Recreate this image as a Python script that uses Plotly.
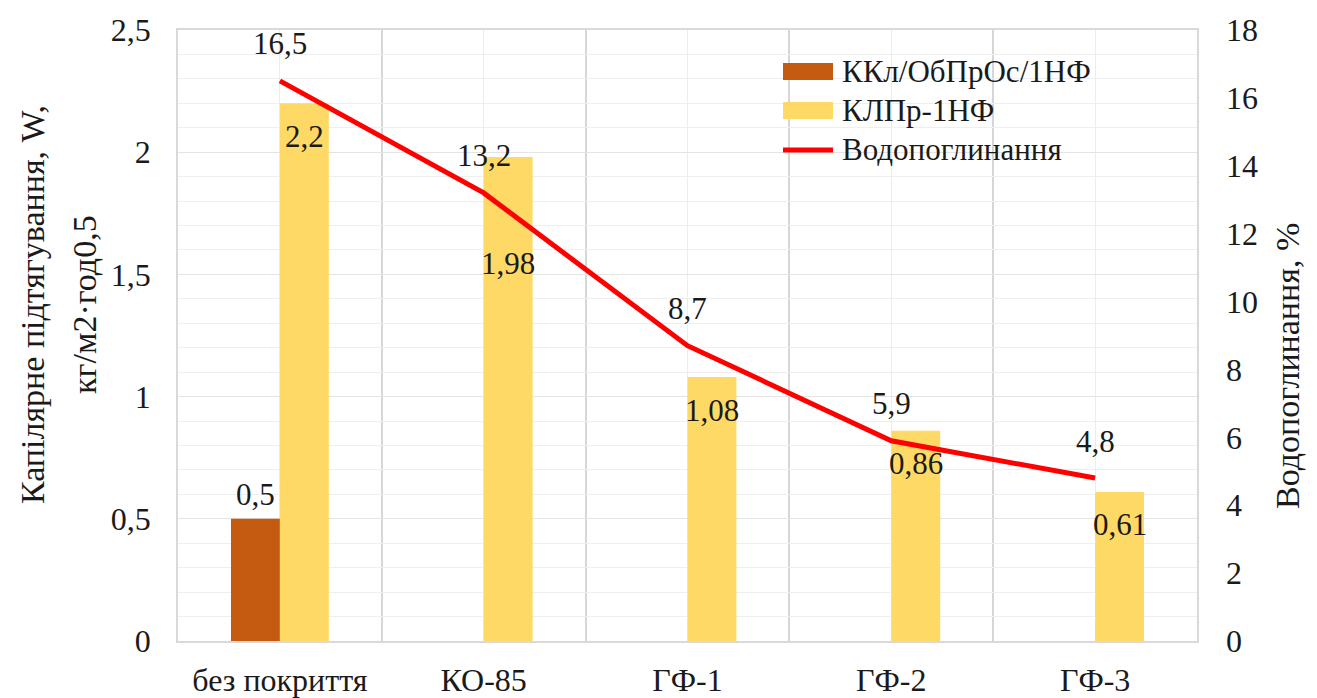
import plotly.graph_objects as go

# Chart data
categories = ["без покриття", "КО-85", "ГФ-1", "ГФ-2", "ГФ-3"]
kkl_values = [0.5, None, None, None, None]          # ККл/ОбПрОс/1НФ
klpr_values = [2.2, 1.98, 1.08, 0.86, 0.61]          # КЛПр-1НФ
water_absorption = [16.5, 13.2, 8.7, 5.9, 4.8]       # Водопоглинання, %

series_names = ["ККл/ОбПрОс/1НФ", "КЛПр-1НФ", "Водопоглинання"]
left_title_lines = ["Капілярне підтягування, W,", "кг/м2·год0,5"]
right_title = "Водопоглинання, %"

FONT = "Times New Roman, Liberation Serif, DejaVu Serif, serif"
BROWN = "#C55A11"
YELLOW = "#FFD966"
RED = "#FF0000"
TXT = "#1a1a1a"
LABEL_SIZE = 31
TICK_SIZE = 32
TITLE_SIZE = 34

W, H = 1317, 698
ML, MR, MT, MB = 178, 120, 30, 57
PW, PH = W - ML - MR, H - MT - MB


def px_x(px):
    return (px - ML) / PW


def px_y(py):
    return (H - MB - py) / PH


def fmt(v):
    return f"{v:g}".replace(".", ",")


x = list(range(len(categories)))

fig = go.Figure()
fig.add_trace(go.Bar(x=x, y=kkl_values, name=series_names[0],
                     marker=dict(color=BROWN, line=dict(width=0)), showlegend=False))
fig.add_trace(go.Bar(x=x, y=klpr_values, name=series_names[1],
                     marker=dict(color=YELLOW, line=dict(width=0)), showlegend=False))
fig.add_trace(go.Scatter(x=x, y=water_absorption, name=series_names[2], yaxis="y2",
                         mode="lines", line=dict(color=RED, width=5),
                         showlegend=False))

ann = []
half_bar = PW / len(categories) * 0.48 / 4
label_font = dict(family=FONT, size=LABEL_SIZE, color=TXT)

# bar value labels
for i, v in enumerate(kkl_values):
    if v is not None:
        ann.append(dict(x=i, y=v, xref="x", yref="y", text=fmt(v), showarrow=False,
                        xshift=-half_bar, yshift=24, yanchor="middle", font=label_font))
for i, v in enumerate(klpr_values):
    shift = -106 if i == 1 else -33
    ann.append(dict(x=i, y=v, xref="x", yref="y", text=fmt(v), showarrow=False,
                    xshift=half_bar, yshift=shift, yanchor="middle", font=label_font))
# line value labels
for i, v in enumerate(water_absorption):
    ann.append(dict(x=i, y=v, xref="x", yref="y2", text=fmt(v), showarrow=False,
                    yshift=37, yanchor="middle", font=label_font))

# axis titles
title_font = dict(family=FONT, size=TITLE_SIZE, color=TXT)
ann.append(dict(x=px_x(32), y=px_y(305), xref="paper", yref="paper",
                text=left_title_lines[0], textangle=-90, showarrow=False,
                xanchor="center", yanchor="middle", font=title_font))
ann.append(dict(x=px_x(84), y=px_y(305), xref="paper", yref="paper",
                text=left_title_lines[1], textangle=-90, showarrow=False,
                xanchor="center", yanchor="middle", font=title_font))
ann.append(dict(x=px_x(1287), y=px_y(366), xref="paper", yref="paper", text=right_title,
                textangle=-90, showarrow=False, xanchor="center", yanchor="middle",
                font=title_font))

# custom legend
shapes = []
legend_rows = [71, 110, 150]
for name, row, kind in zip(series_names, legend_rows, ["bar", "bar", "line"]):
    if kind == "bar":
        color = BROWN if name == series_names[0] else YELLOW
        shapes.append(dict(type="rect", xref="paper", yref="paper",
                           x0=px_x(783), x1=px_x(833), y0=px_y(row + 9), y1=px_y(row - 8),
                           fillcolor=color, line=dict(width=0)))
    else:
        shapes.append(dict(type="line", xref="paper", yref="paper",
                           x0=px_x(783), x1=px_x(833), y0=px_y(row), y1=px_y(row),
                           line=dict(color=RED, width=5)))
    ann.append(dict(x=px_x(840), y=px_y(row), xref="paper", yref="paper", text=name,
                    showarrow=False, xanchor="left", yanchor="middle", font=label_font))

tick_font = dict(family=FONT, size=TICK_SIZE, color=TXT)
fig.update_layout(
    width=W, height=H,
    margin=dict(l=ML, r=MR, t=MT, b=MB, autoexpand=False),
    paper_bgcolor="white", plot_bgcolor="white",
    separators=", ",
    barmode="group", bargap=0.52, bargroupgap=0,
    font=dict(family=FONT, size=TICK_SIZE, color=TXT),
    xaxis=dict(
        range=[-0.5, len(categories) - 0.5], automargin=False,
        tickmode="array", tickvals=x, ticktext=categories,
        showgrid=True, gridcolor="#ececec", gridwidth=1,
        minor=dict(tickmode="array",
                   tickvals=[i + 0.5 for i in x[:-1]],
                   showgrid=True, gridcolor="#d6d6d6", gridwidth=1.5, ticks=""),
        ticks="", ticklabelstandoff=10,
        showline=True, linecolor="#d9d9d9", linewidth=1.5, mirror=True,
        zeroline=False, tickfont=tick_font,
    ),
    yaxis=dict(
        range=[0, 2.5], dtick=0.5, tick0=0, automargin=False,
        showgrid=True, gridcolor="#e4e4e4", gridwidth=1,
        minor=dict(dtick=0.1, showgrid=True, gridcolor="#efefef", gridwidth=1, ticks=""),
        ticks="", ticklabelstandoff=19,
        showline=True, linecolor="#d9d9d9", linewidth=1.5, mirror=True,
        zeroline=False, tickfont=tick_font,
    ),
    yaxis2=dict(
        range=[0, 18], dtick=2, overlaying="y", side="right", automargin=False,
        showgrid=False, zeroline=False, ticks="", ticklabelstandoff=28,
        tickfont=tick_font,
    ),
    annotations=ann,
    shapes=shapes,
)

fig.write_html("out.html")
